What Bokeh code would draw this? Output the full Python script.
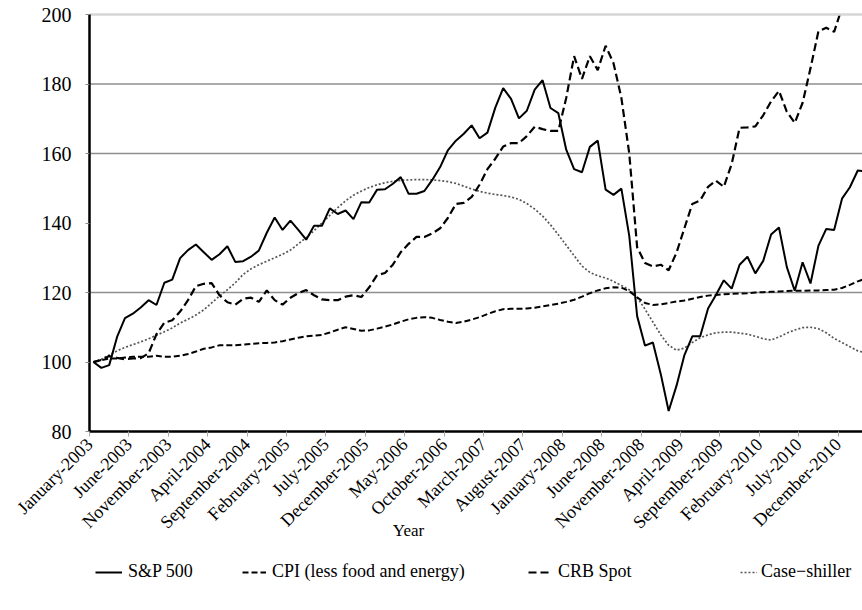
import math
from bokeh.plotting import figure
from bokeh.models import (ColumnDataSource, FixedTicker, Legend, LegendItem, Label, Range1d)
from bokeh.embed import file_html
from bokeh.resources import INLINE

# ---------------- data (monthly, January 2003 = 100, Jan-2003 .. Mar-2011) ----------------
tick_labels = ["January-2003", "June-2003", "November-2003", "April-2004", "September-2004",
               "February-2005", "July-2005", "December-2005", "May-2006", "October-2006",
               "March-2007", "August-2007", "January-2008", "June-2008", "November-2008",
               "April-2009", "September-2009", "February-2010", "July-2010", "December-2010"]

sp500 = [100.0, 98.3, 99.1, 107.2, 112.6, 113.9, 115.7, 117.8, 116.4, 122.8, 123.7, 129.9,
         132.2, 133.8, 131.6, 129.4, 131.0, 133.3, 128.8, 129.0, 130.3, 132.1, 137.2, 141.6,
         138.0, 140.7, 138.0, 135.2, 139.2, 139.2, 144.2, 142.6, 143.6, 141.1, 146.0, 145.9,
         149.6, 149.7, 151.3, 153.2, 148.4, 148.4, 149.2, 152.4, 156.1, 161.0, 163.7, 165.7,
         168.1, 164.4, 166.0, 173.2, 178.8, 175.7, 170.1, 172.3, 178.4, 181.1, 173.1, 171.6,
         161.1, 155.5, 154.6, 161.9, 163.7, 149.6, 148.1, 149.9, 136.3, 113.2, 104.7, 105.6,
         96.5, 85.9, 93.2, 102.0, 107.4, 107.4, 115.4, 119.3, 123.5, 121.1, 128.0, 130.3,
         125.5, 129.1, 136.7, 138.7, 127.3, 120.5, 128.7, 122.6, 133.4, 138.3, 138.0, 147.0,
         150.3, 155.1, 154.9]

cpi = [100.0, 100.5, 101.0, 101.0, 101.3, 101.5, 101.5, 101.5, 101.8, 101.5, 101.5, 101.8,
       102.3, 103.0, 103.8, 104.2, 104.8, 104.8, 104.8, 105.0, 105.2, 105.4, 105.5, 105.6,
       106.0, 106.5, 107.0, 107.4, 107.6, 107.8, 108.5, 109.3, 110.0, 109.5, 109.0, 109.1,
       109.6, 110.2, 110.8, 111.6, 112.3, 112.7, 112.9, 112.7, 112.1, 111.6, 111.2, 111.6,
       112.2, 112.9, 113.8, 114.6, 115.2, 115.3, 115.3, 115.4, 115.6, 116.0, 116.4, 116.8,
       117.3, 117.9, 118.8, 119.8, 120.6, 121.2, 121.5, 121.4, 120.4, 118.6, 117.0, 116.4,
       116.6, 117.0, 117.4, 117.7, 118.2, 118.7, 119.1, 119.3, 119.5, 119.6, 119.7, 119.8,
       120.0, 120.1, 120.2, 120.3, 120.4, 120.5, 120.5, 120.6, 120.6, 120.7, 120.8, 121.3,
       122.2, 123.2, 124.0]

crb = [100.0, 100.6, 101.7, 101.2, 100.8, 101.0, 101.1, 102.5, 108.0, 111.3, 112.0, 114.5,
       117.8, 121.8, 122.5, 122.7, 119.2, 117.2, 116.5, 118.2, 118.5, 117.3, 120.6, 117.8,
       116.5, 118.5, 119.8, 120.7, 119.2, 118.0, 117.8, 117.8, 118.8, 119.2, 118.7, 121.5,
       125.0, 125.6, 128.0, 131.6, 134.0, 136.0, 136.0, 137.0, 138.5, 141.5, 145.5, 145.8,
       147.5, 151.0, 155.5, 158.5, 162.0, 163.0, 163.0, 165.0, 167.7, 167.0, 166.5, 166.5,
       176.0, 188.0, 181.5, 188.0, 184.0, 191.0, 186.0, 176.0, 160.0, 133.0, 128.5, 127.5,
       128.0, 126.4, 131.5, 138.5, 145.5, 146.5, 150.4, 152.2, 150.4, 157.0, 167.4, 167.5,
       167.8, 171.0, 175.0, 178.0, 172.0, 168.8, 174.6, 184.5, 195.1, 196.2, 195.0, 202.0,
       207.0, 210.0, 213.0]

case_shiller = [100.0, 100.8, 102.0, 103.2, 104.2, 105.0, 105.8, 106.7, 107.7, 108.7, 109.8, 111.2,
                112.3, 113.5, 115.0, 117.0, 119.0, 120.8, 122.8, 125.2, 126.8, 128.0, 129.0, 130.0,
                131.0, 132.2, 134.0, 135.8, 137.8, 140.0, 142.2, 144.4, 146.4, 148.0, 149.2, 150.2,
                151.0, 151.6, 152.0, 152.3, 152.4, 152.5, 152.5, 152.4, 152.2, 151.9, 151.4, 150.6,
                149.8, 149.1, 148.6, 148.2, 147.9, 147.5, 146.8, 145.6, 144.0, 142.0, 139.5, 136.6,
                133.6, 130.6, 127.6, 125.8, 124.8, 124.2, 123.2, 122.0, 120.8, 118.6, 115.2, 111.5,
                107.8, 104.8, 103.4, 104.0, 105.6, 107.0, 107.8, 108.4, 108.6, 108.6, 108.3, 108.0,
                107.4, 106.7, 106.3, 107.2, 108.3, 109.2, 109.9, 110.0, 109.6, 108.4, 106.8, 105.6,
                104.4, 103.2, 102.6]

y_ticks = [80, 100, 120, 140, 160, 180, 200]
grid_values = [120, 160, 180]
Y_LO, Y_HI = 80, 200          # value-axis extent
X_HI = 98.1                   # visible month span (picture is cut at the right)

# ---------------- geometry ----------------
# The frame covers the whole canvas; both axes are pinned inside it so that the
# rotated month labels, the axis title and the legend row are never clipped.
W, H = 862, 610
PLOT_L, PLOT_T, PLOT_B = 89, 14, 431
px_x = (W - PLOT_L) / X_HI
px_y = (PLOT_B - PLOT_T) / (Y_HI - Y_LO)
x_start = -PLOT_L / px_x
y_end = Y_HI + PLOT_T / px_y
y_start = Y_HI - (H - PLOT_T) / px_y

x = [i + 0.5 for i in range(len(sp500))]      # month slot centres
src = ColumnDataSource(dict(x=x, sp=sp500, cpi=cpi, crb=crb, cs=case_shiller))
grid_src = ColumnDataSource(dict(y=grid_values))

FONT = "Liberation Serif"

p = figure(width=W, height=H, output_backend="svg", toolbar_location=None,
           x_range=Range1d(x_start, X_HI), y_range=Range1d(y_start, y_end),
           min_border_left=0, min_border_right=0, min_border_top=0, min_border_bottom=0)
p.outline_line_color = None
p.xgrid.visible = False
p.ygrid.visible = False
p.background_fill_color = "white"
p.border_fill_color = "white"

# horizontal reference lines (only across the plot area)
p.segment(x0=0, x1=X_HI, y0="y", y1="y", source=grid_src, line_color="#8e8e8e",
          line_width=1.4, level="underlay")

r_cs = p.line("x", "cs", source=src, line_color="#555555", line_width=1.7, line_dash="2 2")
r_cpi = p.line("x", "cpi", source=src, line_color="black", line_width=2.0, line_dash="6 3")
r_crb = p.line("x", "crb", source=src, line_color="black", line_width=2.2, line_dash="8 4")
r_sp = p.line("x", "sp", source=src, line_color="black", line_width=2.0)

# white mask above the top of the value axis (the series run off the chart there)
p.quad(left=x_start, right=X_HI, bottom=Y_HI, top=y_end, fill_color="white",
       line_color=None)
p.segment(x0=0, x1=X_HI, y0=Y_HI, y1=Y_HI, line_color="#d6d6d6", line_width=2.5)

# y axis
p.yaxis.fixed_location = 0
p.yaxis.bounds = (Y_LO, Y_HI)
p.yaxis.ticker = FixedTicker(ticks=y_ticks)
p.yaxis.axis_line_width = 2.5
p.yaxis.axis_line_color = "black"
p.yaxis.major_tick_out = 4
p.yaxis.major_tick_in = 0
p.yaxis.major_tick_line_color = "#888888"
p.yaxis.minor_tick_line_color = None
p.yaxis.major_label_standoff = 14
p.yaxis.major_label_text_font = FONT
p.yaxis.major_label_text_font_size = "20px"
p.yaxis.major_label_text_color = "black"

# x axis
xt = [5 * k for k in range(len(tick_labels))]
p.xaxis.fixed_location = Y_LO
p.xaxis.bounds = (0, X_HI)
p.xaxis.ticker = FixedTicker(ticks=xt)
p.xaxis.major_label_overrides = {t: lab for t, lab in zip(xt, tick_labels)}
p.xaxis.major_label_orientation = math.pi / 4
p.xaxis.axis_line_width = 2.5
p.xaxis.axis_line_color = "black"
p.xaxis.major_tick_out = 5
p.xaxis.major_tick_in = 0
p.xaxis.major_tick_line_color = "#aaaaaa"
p.xaxis.minor_tick_line_color = None
p.xaxis.major_label_standoff = 5
p.xaxis.major_label_text_font = FONT
p.xaxis.major_label_text_font_size = "18px"
p.xaxis.major_label_text_color = "black"

p.add_layout(Label(x=408, y=H - 530, x_units="screen", y_units="screen", text="Year",
                   text_align="center", text_baseline="middle", text_font=FONT,
                   text_font_size="17px", text_color="black"))

def make_legend(label, r, vx, gw, standoff=6):
    lg = Legend(items=[LegendItem(label=label, renderers=[r])], location=(vx, 28),
                orientation="horizontal", border_line_color=None, background_fill_alpha=0,
                padding=0, margin=0, spacing=0, glyph_width=gw, glyph_height=20,
                label_standoff=standoff, label_height=20, label_text_font=FONT,
                label_text_font_size="18px", label_text_color="black")
    p.add_layout(lg)

make_legend("S&P 500", r_sp, 95, 27)
make_legend("CPI (less food and energy)", r_cpi, 242, 24)
make_legend("CRB Spot", r_crb, 528, 24)
make_legend("Case\u2212shiller", r_cs, 740, 17, 4)

open("out.html", "w").write(file_html(p, INLINE))
